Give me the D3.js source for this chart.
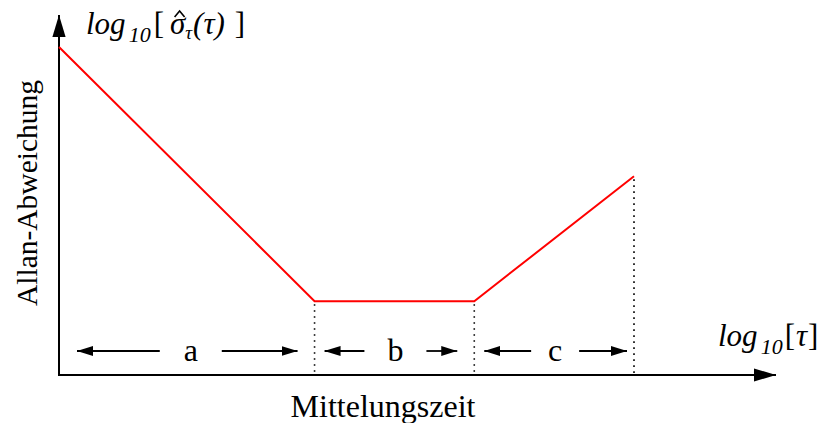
<!DOCTYPE html>
<html>
<head>
<meta charset="utf-8">
<script src="https://cdn.jsdelivr.net/npm/d3@7/dist/d3.min.js"></script>
<style>
  html, body { margin: 0; padding: 0; background: #fff; }
  svg text { font-family: "Liberation Serif", "DejaVu Serif", serif; fill: #000; }
</style>
</head>
<body>
<svg id="chart" width="822" height="423"></svg>
<script>
// Schematic Allan deviation curve on log-log axes (arbitrary units)
const logTau = [0, 4, 6.5, 9];            // breakpoints along log10[tau]
const logSigma = [5.2, 1.17, 1.17, 3.15];  // log10 of Allan deviation at breakpoints
const regions = [
  { label: "a", from: 0, to: 4 },
  { label: "b", from: 4, to: 6.5 },
  { label: "c", from: 6.5, to: 9 }
];
const xAxisTitle = "Mittelungszeit";
const yAxisTitle = "Allan-Abweichung";

const svg = d3.select("#chart");
const origin = { x: 59, y: 375 };

const x = d3.scaleLinear().domain([0, 9]).range([origin.x, 634]);
const y = d3.scaleLinear().domain([0, 5.2]).range([origin.y, 47]);

// arrow heads
const defs = svg.append("defs");
defs.append("marker")
  .attr("id", "bigHead").attr("viewBox", "0 0 20 12")
  .attr("refX", 20).attr("refY", 6)
  .attr("markerWidth", 22).attr("markerHeight", 14)
  .attr("markerUnits", "userSpaceOnUse").attr("orient", "auto")
  .append("path").attr("d", "M0,0 L20,6 L0,12 Z").attr("fill", "#000");
defs.append("marker")
  .attr("id", "smallHead").attr("viewBox", "0 0 16 10")
  .attr("refX", 16).attr("refY", 5)
  .attr("markerWidth", 16).attr("markerHeight", 10)
  .attr("markerUnits", "userSpaceOnUse").attr("orient", "auto")
  .append("path").attr("d", "M0,0 L16,5 L0,10 Z").attr("fill", "#000");

// axes
svg.append("line")
  .attr("x1", origin.x).attr("y1", origin.y + 1)
  .attr("x2", origin.x).attr("y2", 15)
  .attr("stroke", "#000").attr("stroke-width", 2)
  .attr("marker-end", "url(#bigHead)");
svg.append("line")
  .attr("x1", origin.x - 1).attr("y1", origin.y)
  .attr("x2", 776).attr("y2", origin.y)
  .attr("stroke", "#000").attr("stroke-width", 2)
  .attr("marker-end", "url(#bigHead)");

// dotted guides from the curve down to the time axis
const pts = logTau.map((t, i) => [t, logSigma[i]]);
svg.selectAll("line.guide")
  .data(pts.slice(1))
  .enter().append("line")
  .attr("class", "guide")
  .attr("x1", d => x(d[0])).attr("x2", d => x(d[0]))
  .attr("y1", d => y(d[1]) + 3).attr("y2", origin.y - 1)
  .attr("stroke", "#000").attr("stroke-width", 1.6)
  .attr("stroke-dasharray", "1.6,4.4");

// curve
svg.append("path")
  .datum(pts)
  .attr("d", d3.line().x(d => x(d[0])).y(d => y(d[1])))
  .attr("fill", "none").attr("stroke", "#ff0000").attr("stroke-width", 2);

// region annotations
const ay = 351;
regions.forEach((r, i) => {
  const left = x(r.from) + (i === 0 ? 18 : 10);
  const right = x(r.to) - (i === 2 ? 7 : 17);
  const mid = (x(r.from) + x(r.to)) / 2 + (i === 0 ? 4 : 1);
  const gap = i === 2 ? 24 : 31;
  svg.append("line")
    .attr("x1", mid - gap).attr("y1", ay).attr("x2", left).attr("y2", ay)
    .attr("stroke", "#000").attr("stroke-width", 1.8)
    .attr("marker-end", "url(#smallHead)");
  svg.append("line")
    .attr("x1", mid + gap).attr("y1", ay).attr("x2", right).attr("y2", ay)
    .attr("stroke", "#000").attr("stroke-width", 1.8)
    .attr("marker-end", "url(#smallHead)");
  svg.append("text")
    .attr("x", mid).attr("y", ay + 10)
    .attr("text-anchor", "middle")
    .attr("font-size", 32)
    .text(r.label);
});

// axis titles
svg.append("text")
  .attr("x", 383).attr("y", 417)
  .attr("text-anchor", "middle").attr("font-size", 32)
  .text(xAxisTitle);
svg.append("text")
  .attr("transform", "translate(37,193) rotate(-90)")
  .attr("text-anchor", "middle").attr("font-size", 29.5)
  .text(yAxisTitle);

// y-axis quantity label: log10[ sigma-hat_tau(tau) ]
const yl = svg.append("text").attr("x", 86).attr("y", 34).attr("font-size", 31);
yl.append("tspan").attr("font-style", "italic").text("log");
yl.append("tspan").attr("font-style", "italic").attr("font-size", 22).attr("dx", 3).attr("dy", 8).text("10");
yl.append("tspan").attr("dx", 3).attr("dy", -8).text("[");
yl.append("tspan").attr("font-style", "italic").attr("dx", 6).text("\u03C3");
yl.append("tspan").attr("font-style", "italic").attr("font-size", 19).attr("dy", 5).text("\u03C4");
yl.append("tspan").attr("font-style", "italic").attr("dx", 1).attr("dy", -5).text("(\u03C4)");
yl.append("tspan").attr("dx", 10).text("]");

// circumflex over sigma
{
  const tnode = yl.node();
  const idx = tnode.textContent.indexOf("\u03C3");
  const p0 = tnode.getStartPositionOfChar(idx);
  const p1 = tnode.getEndPositionOfChar(idx);
  const cx = (p0.x + p1.x) / 2 + 2;
  svg.append("path")
    .attr("d", `M${cx - 5},${p0.y - 17} L${cx},${p0.y - 23} L${cx + 5},${p0.y - 17}`)
    .attr("fill", "none").attr("stroke", "#000").attr("stroke-width", 1.6)
    .attr("stroke-linejoin", "miter");
}

// x-axis quantity label: log10[tau]
const xl = svg.append("text").attr("x", 718).attr("y", 346).attr("font-size", 31);
xl.append("tspan").attr("font-style", "italic").text("log");
xl.append("tspan").attr("font-style", "italic").attr("font-size", 22).attr("dx", 3).attr("dy", 8).text("10");
xl.append("tspan").attr("dx", 2).attr("dy", -8).text("[");
xl.append("tspan").attr("font-style", "italic").attr("dx", 1).text("\u03C4");
xl.append("tspan").attr("dx", 1).text("]");
</script>
</body>
</html>
